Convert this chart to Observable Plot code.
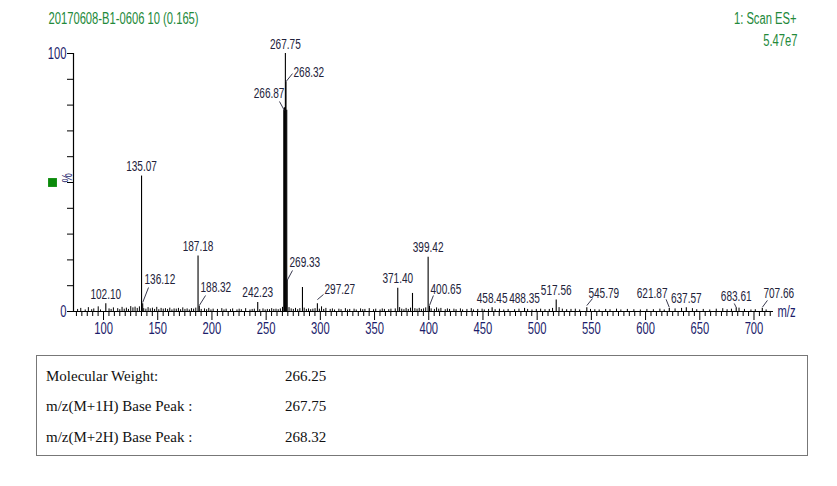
<!DOCTYPE html>
<html><head><meta charset="utf-8">
<script src="https://cdn.jsdelivr.net/npm/d3@7"></script>
<script src="https://cdn.jsdelivr.net/npm/@observablehq/plot@0.6"></script>
<style>
body{margin:0;background:#fff;width:837px;height:486px;position:relative;overflow:hidden}
#chart{position:absolute;left:0;top:0}
#info{position:absolute;left:36px;top:355px;width:770px;height:99px;border:1px solid #777;font-family:"Liberation Serif","Times New Roman",serif;font-size:15px;color:#111}
.lab{position:absolute;left:9px;line-height:18px}
.val{position:absolute;left:248px;line-height:18px}
</style></head><body>
<div id="chart"></div>
<div id="info"></div>
<script>
// ---- data ----
const titleText = "20170608-B1-0606 10 (0.165)";
const scanText = "1: Scan ES+";
const scaleText = "5.47e7";
const xDomain = [72.3, 718];
const xMajorTicks = [100,150,200,250,300,350,400,450,500,550,600,650,700];
const yTicks = [0,10,20,30,40,50,60,70,80,90,100];

// main peaks (m/z, relative %)
const peakMz  = [102.10,135.07,136.12,187.18,188.32,242.23,266.3,266.87,267.75,268.32,269.0,269.33,283.5,297.27,371.40,385.0,399.42,400.65,458.45,488.35,517.56,545.79,621.87,637.57,683.61,707.66];
const peakPct = [3,52.5,3,21.5,2,3.5,78,79,100,89,78,12,9.3,3,9,7,21,2,1.5,1.2,4.5,1.5,1.2,1.5,1.5,1.2];

// baseline noise sticks
const noiseMz = [76.1,79.0,83.1,86.0,89.1,91.0,95.1,97.2,105.1,107.0,109.1,113.1,115.0,117.1,119.1,121.1,123.0,125.1,127.1,129.1,131.1,133.1,137.1,139.1,141.1,143.1,145.1,147.1,149.1,151.0,153.1,155.1,157.1,159.1,161.1,163.1,165.1,167.1,169.1,171.1,173.1,175.1,177.1,179.1,181.1,183.1,185.1,190.1,193.1,195.1,197.1,199.1,201.1,205.1,209.1,211.1,213.1,217.1,219.1,223.1,225.1,227.1,231.1,235.1,237.1,239.1,244.1,247.1,249.1,251.1,253.1,255.1,257.1,259.1,261.1,263.1,265.1,271.1,273.1,275.1,277.1,279.1,281.1,285.1,287.1,289.1,291.1,293.1,295.1,299.1,301.1,303.1,305.1,309.1,311.1,313.1,317.1,319.1,323.1,325.1,327.1,331.1,333.1,337.1,339.1,341.1,345.1,349.1,351.1,355.1,357.1,359.1,363.1,365.1,369.1,373.1,375.1,377.1,379.1,381.1,383.2,387.2,389.2,391.2,393.2,395.2,397.2,402.2,405.2,407.2,409.2,411.2,415.2,417.2,419.2,423.2,425.2,429.2,431.2,435.2,439.2,441.2,445.2,449.2,451.2,455.2,461.2,465.2,469.2,473.2,479.2,483.2,491.2,495.2,499.2,503.2,507.2,511.2,514.2,520.2,523.2,527.2,531.2,535.2,539.2,549.2,553.2,557.2,563.2,567.2,573.2,577.2,583.2,589.2,595.2,601.2,607.2,613.2,617.2,627.2,633.2,643.2,647.2,653.2,659.2,665.2,671.2,675.2,679.2,686.2,691.2,697.2,701.2,711.2];
const noisePct = [0.8,1.2,0.6,1.5,0.7,1.0,1.8,0.6,1.0,0.8,1.4,1.1,0.7,1.6,0.9,1.3,0.8,1.9,1.4,1.7,1.2,1.8,1.1,0.9,1.5,1.0,1.3,0.8,1.6,0.7,1.2,0.9,1.1,0.8,1.3,0.6,1.0,0.9,1.2,0.7,1.4,0.8,1.0,0.6,1.1,0.9,1.3,0.8,1.0,0.7,1.2,0.6,0.9,0.8,1.1,0.6,0.9,0.7,1.0,0.6,0.9,0.7,1.1,0.6,0.8,0.9,0.7,1.0,0.6,0.8,0.7,1.1,0.8,0.9,0.7,1.0,1.6,1.5,1.0,0.8,1.2,0.7,1.1,1.3,0.8,1.0,0.7,0.9,1.1,0.9,1.8,0.8,1.2,0.8,1.0,0.6,0.9,0.7,1.1,0.6,0.8,0.9,0.6,1.0,0.7,0.8,1.1,0.7,0.9,0.6,1.0,0.8,0.7,0.9,1.0,1.5,0.9,0.7,1.2,0.8,1.3,1.1,0.9,1.2,0.8,1.0,1.4,1.0,0.8,1.4,0.9,1.2,0.7,1.0,0.8,0.9,0.7,1.0,0.6,0.8,1.1,0.6,0.8,0.9,0.6,0.8,0.7,0.9,0.6,0.8,0.7,0.9,0.8,0.6,0.8,0.9,0.7,0.8,1.2,1.5,0.9,0.7,0.8,0.9,0.6,0.8,0.7,0.6,0.8,0.7,0.9,0.6,0.8,0.7,0.6,0.8,0.7,0.9,0.6,1.0,1.2,1.1,0.7,0.8,0.6,0.9,1.1,0.7,0.9,1.3,0.8,0.6,0.7,0.6];

// labels drawn centred above their peak
const centerLabels = ["102.10","135.07","187.18","242.23","267.75","371.40","399.42","458.45","488.35","517.56","637.57"];
// labels with leader lines: text position, leader start, leader end (all in m/z and %)
const offName   = ["268.32","266.87","136.12","188.32","269.33","297.27","400.65","545.79","621.87","683.61","707.66"];
const offAnchor = ["start","end","start","start","start","start","start","start","end","middle","start"];
const offTextMz = [275.2,266.9,137.8,189.4,271.5,303.8,401.6,547.3,620.2,683.6,708.7];
const offTextPct= [90.7,82.9,10.5,7.4,17.4,6.6,6.6,5.4,5.4,3.9,5.4];
const offLeadMz = [274.3,262.3,141.5,194.1,274.3,302.9,404.3,551.0,618.9,681.8,712.4];
const offLeadPct= [92.2,81.4,9.3,6.2,15.9,6.6,6.2,5.0,4.7,3.1,4.3];
const offEndPct = [89.1,77.9,3.5,2.3,12.0,4.6,2.3,2.3,1.6,1.6,1.6];

const infoLabels = ["Molecular Weight:","m/z(M+1H) Base Peak :","m/z(M+2H) Base Peak :"];
const infoValues = ["266.25","267.75","268.32"];

// ---- build ----
const sans = '"Liberation Sans",Arial,sans-serif';
const axisColor = "#1c1c6b";
const labelColor = "#22223a";
const green = "#23893a";

const peaks = peakMz.map((m,i)=>({mz:m,pct:peakPct[i]}));
const noise = noiseMz.map((m,i)=>({mz:m,pct:noisePct[i]}));
const centers = centerLabels.map(s=>{const i=peakMz.indexOf(+s);return {label:s,mz:peakMz[i],pct:peakPct[i]};});
const offs = offName.map((s,i)=>({label:s,anchor:offAnchor[i],tx:offTextMz[i],ty:offTextPct[i],lx:offLeadMz[i],ly:offLeadPct[i],mz:+s,ey:offEndPct[i]}));
const minorTicks = d3.range(75, xDomain[1], 5).filter(v=>v%50!==0);

const textOpts = {fontSize:15, fill:labelColor, fontFamily:sans, className:"pk"};
const plot = Plot.plot({
  width:837, height:341,
  marginLeft:73, marginRight:64, marginTop:53, marginBottom:30,
  style:{fontFamily:sans, background:"#fff", overflow:"visible"},
  x:{domain:xDomain, axis:null},
  y:{domain:[0,100], axis:null},
  marks:[
    Plot.ruleX(noise,{x:"mz",y1:0,y2:"pct",stroke:"#000",strokeWidth:1}),
    Plot.ruleX(peaks,{x:"mz",y1:0,y2:"pct",stroke:"#000",strokeWidth:1.1}),
    Plot.ruleY([0],{stroke:"#000",strokeWidth:1.2}),
    Plot.ruleX([xDomain[0]],{y1:0,y2:100,stroke:"#000",strokeWidth:1.2}),
    Plot.axisY(yTicks,{tickSize:6,tickPadding:1,fontSize:16,fill:axisColor,stroke:"#000",
      tickFormat:d=>(d===0||d===100)?String(d):""}),
    Plot.axisX(minorTicks,{tickSize:5,tickFormat:()=>"",stroke:"#000"}),
    Plot.axisX(xMajorTicks,{tickSize:9,tickPadding:2,fontSize:16,fill:axisColor,stroke:"#000"}),
    Plot.text(centers,{x:"mz",y:"pct",text:"label",dy:-5,lineAnchor:"bottom",...textOpts}),
    Plot.link(offs,{x1:"lx",y1:"ly",x2:"mz",y2:"ey",stroke:labelColor,strokeWidth:0.9}),
    Plot.text(offs.filter(d=>d.anchor==="start"),{x:"tx",y:"ty",text:"label",textAnchor:"start",lineAnchor:"bottom",...textOpts}),
    Plot.text(offs.filter(d=>d.anchor==="end"),{x:"tx",y:"ty",text:"label",textAnchor:"end",lineAnchor:"bottom",...textOpts}),
    Plot.text(offs.filter(d=>d.anchor==="middle"),{x:"tx",y:"ty",text:"label",textAnchor:"middle",lineAnchor:"bottom",...textOpts}),
    Plot.text([titleText],{frameAnchor:"top-left",dx:-25,dy:-35,textAnchor:"start",lineAnchor:"middle",fontSize:16,fill:green,fontFamily:sans}),
    Plot.text([scanText],{frameAnchor:"top-right",dx:23,dy:-35,textAnchor:"end",lineAnchor:"middle",fontSize:16,fill:green,fontFamily:sans}),
    Plot.text([scaleText],{frameAnchor:"top-right",dx:24,dy:-13,textAnchor:"end",lineAnchor:"middle",fontSize:16,fill:green,fontFamily:sans}),
    Plot.text(["%"],{frameAnchor:"left",dx:-6,rotate:-90,lineAnchor:"middle",fontSize:15,fill:axisColor,fontFamily:sans}),
    Plot.dot([0],{frameAnchor:"left",dx:-21,symbol:"square",r:5,fill:"#0a8a0a",stroke:null}),
    Plot.text(["m/z"],{frameAnchor:"bottom-right",dx:4,textAnchor:"start",lineAnchor:"middle",fontSize:16,fill:axisColor,fontFamily:sans})
  ]
});
document.getElementById("chart").appendChild(plot);

// condense glyphs horizontally to mimic the narrow face of the original
plot.querySelectorAll("text").forEach(t=>{
  if (t.querySelector("tspan")) return;
  const w = t.getComputedTextLength();
  const f = t.closest(".pk") ? 0.67 : 0.70;
  if (w > 0) { t.setAttribute("textLength", (w*f).toFixed(2)); t.setAttribute("lengthAdjust","spacingAndGlyphs"); }
});

const info = document.getElementById("info");
const tops = [11,41,72];
infoLabels.forEach((t,i)=>{
  const a=document.createElement("div");a.className="lab";a.style.top=tops[i]+"px";a.textContent=t;info.appendChild(a);
  const b=document.createElement("div");b.className="val";b.style.top=tops[i]+"px";b.textContent=infoValues[i];info.appendChild(b);
});
</script>
</body></html>
